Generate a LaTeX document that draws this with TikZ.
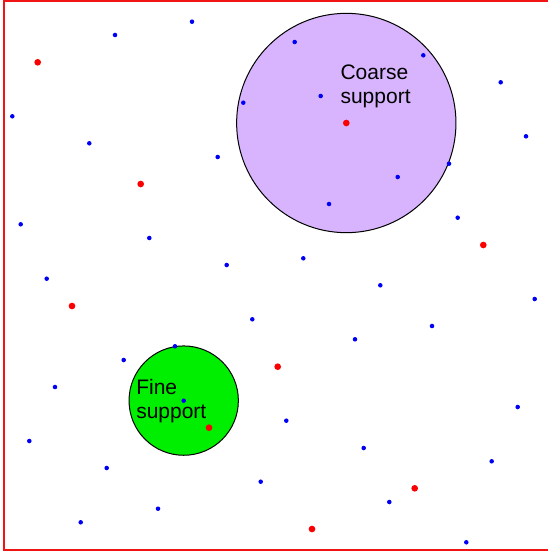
\documentclass[tikz,border=0pt]{standalone}
\usepackage{fontspec}
\setmainfont{Liberation Sans}
\usetikzlibrary{positioning}

\definecolor{borderred}{RGB}{240,20,20}
\definecolor{lavender}{RGB}{216,180,254}
\definecolor{brightgreen}{RGB}{0,238,0}
\definecolor{ptblue}{RGB}{0,0,245}
\definecolor{ptred}{RGB}{250,0,0}

\begin{document}
\begin{tikzpicture}[
		x=0.75pt, y=-0.75pt,
		support/.style={circle, draw=black, line width=0.75pt, inner sep=0pt, outer sep=0pt},
		finept/.style={circle, fill=ptblue, inner sep=0pt, minimum size=3.4pt},
		coarsept/.style={circle, fill=ptred, inner sep=0pt, minimum size=5pt},
		label/.style={anchor=north west, inner sep=0pt, align=left,
			font=\fontsize{15.75pt}{18pt}\selectfont}
		]
		\useasboundingbox (0,0) rectangle (547,553);
		% --- frame ---
		\draw[draw=borderred, line width=1.5pt] (3.8,1.3) rectangle (550,549.5);
		
		% --- supports ---
		\node[support, fill=lavender, minimum size=164.5pt] (coarse) at (346.3,123) {};
		\node[support, fill=brightgreen, minimum size=82pt] (fine) at (183.7,400.6) {};
		
		% --- fine grid points ---
		\foreach \x/\y [count=\i] in {
			115/35, 192/21.7, 12.3/116.3, 89.3/143.3, 217.7/157, 20.7/224.3,
			149.3/238, 226.7/265, 243.3/102.7, 294.7/42, 423.3/55.3, 500.7/82.3,
			320.7/96, 526/136.3, 449/163.7, 397.7/177, 329/204, 457.7/217.7,
			303.3/258.3, 46.7/278.7, 252.3/319.3, 175/346.3, 123.7/360, 55/387,
			183.7/400.7, 29.3/441, 106.7/468, 260.7/481.7, 158/508.7, 80.7/522.3,
			380.3/285.3, 534.7/299, 432/326, 355/339.3, 517.7/407, 286.3/420.7,
			363.7/448, 491.7/461.3, 389.3/502, 466.3/542.3}
			\node[finept] (f\i) at (\x,\y) {};
		
		% --- coarse grid points ---
		\foreach \x/\y [count=\i] in {
			37.7/62.3, 140.7/184, 346.3/123, 483.3/245, 72/306, 209/427.7,
			277.7/366.7, 414.7/488.3, 312/529}
			\node[coarsept] (c\i) at (\x,\y) {};
		
		% --- labels ---
		\node[label] (coarselabel) at (340.3,64.5) {Coarse\\support};
		\node[label] (finelabel) at (136,379) {Fine\\support};
	\end{tikzpicture}
\end{document}
